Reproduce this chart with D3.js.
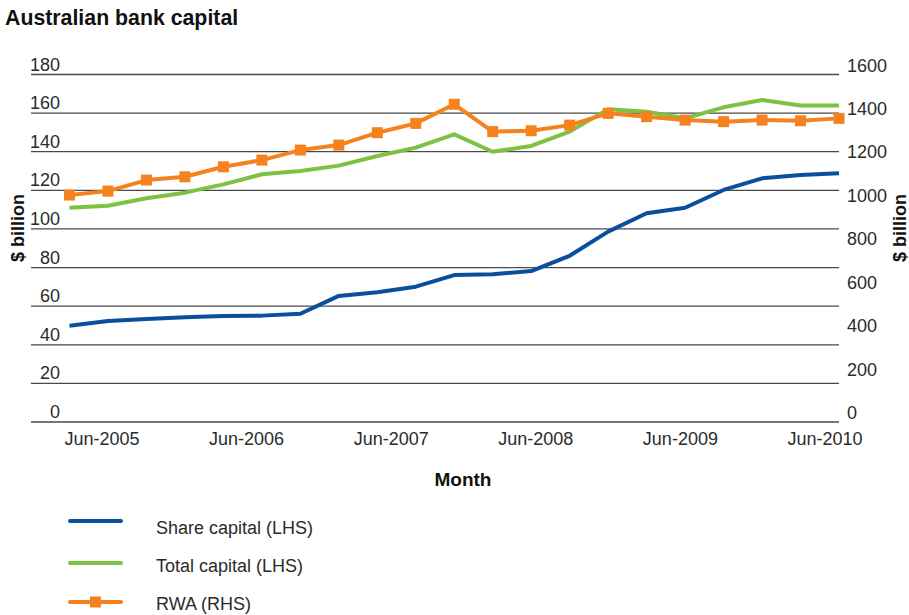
<!DOCTYPE html>
<html>
<head>
<meta charset="utf-8">
<script src="https://cdn.jsdelivr.net/npm/d3@7"></script>
<style>
  html, body { margin: 0; padding: 0; background: #fff; }
  svg { display: block; font-family: "Liberation Sans", Arial, Helvetica, sans-serif; }
</style>
</head>
<body>
<svg id="chart" width="909" height="615"></svg>
<script>
// Quarterly observations, Mar-2005 to Mar-2010
const quarters = [
  "Mar-2005","Jun-2005","Sep-2005","Dec-2005",
  "Mar-2006","Jun-2006","Sep-2006","Dec-2006",
  "Mar-2007","Jun-2007","Sep-2007","Dec-2007",
  "Mar-2008","Jun-2008","Sep-2008","Dec-2008",
  "Mar-2009","Jun-2009","Sep-2009","Dec-2009",
  "Mar-2010"
];

// $ billion, left-hand scale
const shareCapital = [
  49.9, 52.3, 53.4, 54.2, 54.9, 55.1, 56.1, 65.3, 67.2, 70.1, 76.1,
  76.5, 78.2, 86.1, 98.6, 108.1, 111.0, 120.2, 126.2, 127.9, 128.8
];
const totalCapital = [
  111.0, 112.0, 115.9, 118.8, 123.1, 128.3, 130.0, 132.8, 137.8, 142.1, 149.0,
  140.0, 143.0, 150.4, 162.0, 160.7, 157.3, 163.0, 166.8, 163.9, 163.9
];

// $ billion, right-hand scale
const rwa = [
  1045, 1063, 1114, 1129, 1175, 1206, 1252, 1275, 1332, 1375, 1463,
  1337, 1341, 1367, 1421, 1406, 1390, 1383, 1390, 1387, 1398
];

const monthLabels = ["Jun-2005","Jun-2006","Jun-2007","Jun-2008","Jun-2009","Jun-2010"];
const leftTicks = [0, 20, 40, 60, 80, 100, 120, 140, 160, 180];
const rightTicks = [0, 200, 400, 600, 800, 1000, 1200, 1400, 1600];

const seriesNames = ["Share capital (LHS)", "Total capital (LHS)", "RWA (RHS)"];

const colors = { share: "#0b4f9c", total: "#7dc243", rwa: "#f5821f" };

const svg = d3.select("#chart");
const plot = { left: 31, right: 839, top: 74.5, bottom: 422 };

// one empty leading slot before the first quarter
const x = d3.scalePoint().domain(["", ...quarters]).range([plot.left, plot.right]);
const yL = d3.scaleLinear().domain([0, 180]).range([plot.bottom, plot.top]);
const yR = d3.scaleLinear().domain([0, 1600]).range([plot.bottom, plot.top]);
const xLab = d3.scalePoint().domain(monthLabels).range([102, 825]);

// title
svg.append("text")
  .attr("x", 5).attr("y", 25)
  .attr("font-size", 21.3).attr("font-weight", "bold").attr("fill", "#111")
  .text("Australian bank capital");

// gridlines
svg.append("g").selectAll("line").data(leftTicks).join("line")
  .attr("x1", plot.left).attr("x2", plot.right)
  .attr("y1", d => yL(d)).attr("y2", d => yL(d))
  .attr("stroke", "#4a4a4a").attr("stroke-width", 1.3);

// left tick labels, sitting just above their gridline
svg.append("g").selectAll("text").data(leftTicks).join("text")
  .attr("x", 60).attr("y", d => yL(d) - 4)
  .attr("text-anchor", "end").attr("font-size", 18).attr("fill", "#2b2b2b")
  .text(d => d);

// right tick labels
svg.append("g").selectAll("text").data(rightTicks).join("text")
  .attr("x", 847).attr("y", d => yR(d) - 3)
  .attr("text-anchor", "start").attr("font-size", 18).attr("fill", "#2b2b2b")
  .text(d => d);

// x labels
svg.append("g").selectAll("text").data(monthLabels).join("text")
  .attr("x", d => xLab(d)).attr("y", 445)
  .attr("text-anchor", "middle").attr("font-size", 18).attr("fill", "#2b2b2b")
  .text(d => d);

// axis titles
svg.append("text")
  .attr("transform", "translate(24,228) rotate(-90)")
  .attr("text-anchor", "middle").attr("font-size", 18).attr("font-weight", "bold").attr("fill", "#111")
  .text("$ billion");
svg.append("text")
  .attr("transform", "translate(906,228) rotate(-90)")
  .attr("text-anchor", "middle").attr("font-size", 18).attr("font-weight", "bold").attr("fill", "#111")
  .text("$ billion");
svg.append("text")
  .attr("x", 463).attr("y", 486)
  .attr("text-anchor", "middle").attr("font-size", 19).attr("font-weight", "bold").attr("fill", "#111")
  .text("Month");

// series
const lineL = d3.line().x((d, i) => x(quarters[i])).y(d => yL(d));
const lineR = d3.line().x((d, i) => x(quarters[i])).y(d => yR(d));

svg.append("path").datum(totalCapital)
  .attr("d", lineL).attr("fill", "none")
  .attr("stroke", colors.total).attr("stroke-width", 4).attr("stroke-linejoin", "round");

svg.append("path").datum(shareCapital)
  .attr("d", lineL).attr("fill", "none")
  .attr("stroke", colors.share).attr("stroke-width", 4).attr("stroke-linejoin", "round");

svg.append("path").datum(rwa)
  .attr("d", lineR).attr("fill", "none")
  .attr("stroke", colors.rwa).attr("stroke-width", 4).attr("stroke-linejoin", "round");

const ms = 11;
svg.append("g").selectAll("rect").data(rwa).join("rect")
  .attr("x", (d, i) => x(quarters[i]) - ms / 2)
  .attr("y", d => yR(d) - ms / 2)
  .attr("width", ms).attr("height", ms)
  .attr("fill", colors.rwa);

// legend: swatches and labels on their own rows
const legendLineY = [521, 563, 602];
const legendTextY = d3.scalePoint().domain(seriesNames).range([534, 610]);
const legendColors = [colors.share, colors.total, colors.rwa];
const lg = svg.append("g");
seriesNames.forEach((name, i) => {
  const yy = legendLineY[i];
  lg.append("line")
    .attr("x1", 70).attr("x2", 121).attr("y1", yy).attr("y2", yy)
    .attr("stroke", legendColors[i]).attr("stroke-width", 4).attr("stroke-linecap", "round");
  if (i === 2) {
    lg.append("rect")
      .attr("x", 95.5 - ms / 2).attr("y", yy - ms / 2)
      .attr("width", ms).attr("height", ms).attr("fill", colors.rwa);
  }
  lg.append("text")
    .attr("x", 156).attr("y", legendTextY(name))
    .attr("font-size", 18).attr("fill", "#2b2b2b")
    .text(name);
});
</script>
</body>
</html>
